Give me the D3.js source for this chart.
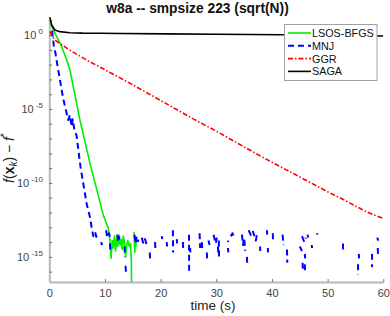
<!DOCTYPE html>
<html><head><meta charset="utf-8">
<script src="https://cdn.jsdelivr.net/npm/d3@7/dist/d3.min.js"></script>
<style>
html,body{margin:0;padding:0;background:#fff;}
svg{display:block;}
text{font-family:"Liberation Sans",Arial,sans-serif;}
</style></head>
<body>
<svg id="chart" width="390" height="316"></svg>
<script>
// ---- data (log10 of f(x_k)-f*, null = gap / non-positive value) ----
const title = "w8a -- smpsize 223 (sqrt(N))";
const seriesNames = ["LSOS-BFGS","MNJ","GGR","SAGA"];
const xTicks = [0,10,20,30,40,50,60];
const yLabelExps = [0,-5,-10,-15];
const yMinorExps = [1,0,-1,-2,-3,-4,-5,-6,-7,-8,-9,-10,-11,-12,-13,-14,-15,-16];

const sagaT = [0.03,0.13,0.43,1.0,1.9,3.7,6,9,13,21,30,42,50,60];
const sagaL = [1.22,1.13,0.68,0.34,0.23,0.16,0.13,0.12,0.10,0.08,0.05,0.02,-0.02,-0.06];

const ggrT = [0.05,0.5,1,2,4,7,10,14,18,22,26,30,34,38,42,46,50,53,57,60];
const ggrL = [0.25,-0.05,-0.33,-0.6,-1.1,-1.75,-2.35,-3.16,-4.0,-4.85,-5.7,-6.5,-7.35,-8.2,-9.0,-9.8,-10.6,-11.16,-11.96,-12.4];

const lsosT = [0.25,0.43,1.62,2.23,3.13,3.72,5.51,7.31,9.7,10.6,10.9,11.1,11.3,11.5,11.7,11.9,12.1,12.3,12.5,12.7,12.9,13.1,13.3,13.5,13.7,13.9,14.1,14.4,14.6,14.75,14.78,null,15.2,15.35,15.5,15.6];
const lsosL = [0.8,0.57,-0.33,-0.79,-1.69,-2.38,-5.76,-8.68,-12.18,-13.06,-13.87,-15.1,-13.9,-14.4,-13.6,-14.6,-13.7,-14.3,-13.5,-14.2,-13.8,-14.5,-13.6,-14.0,-15.0,-14.2,-13.9,-14.3,-14.1,-15.45,-17.5,null,-13.3,-14.7,-13.8,-14.3];

const mnjT = [0.5,0.8,1.1,1.3,1.9,2.5,3.4,3.7,4.0,4.2,4.5,4.9,5.6,6.7,7.3,7.6,7.9,8.2,8.5,null,
  9.3,9.5,null,10.2,10.4,10.7,11.0,null,10.9,10.95,null,12.2,12.4,12.6,null,13.5,13.6,null,13.7,13.78,null,
  15.3,15.5,15.7,16.0,null,16.6,16.9,17.2,17.5,null,18.05,18.1,null,19.0,19.05,null,20.2,20.3,null,21.1,21.15,null,
  22.2,22.25,null,22.9,22.95,null,24.0,24.05,null,25.1,25.12,null,25.3,25.35,null,27.0,27.1,null,27.4,27.5,null,
  28.3,28.35,null,28.6,28.8,null,29.5,29.9,30.1,null,30.3,30.35,null,30.45,30.5,null,32.1,32.15,null,32.1,32.15,null,
  32.6,32.9,33.2,null,34.6,34.8,35.0,35.2,null,35.5,35.55,null,35.8,36.3,36.6,37.1,37.3,null,37.85,37.9,null,
  39.1,39.15,null,39.25,39.3,null,40.15,40.2,null,41.9,42.1,null,42.7,42.75,null,45.0,45.4,null,45.5,45.55,null,
  45.4,45.8,46.1,null,45.9,45.95,null,45.9,45.95,null,46.4,46.5,null,47.15,47.2,null,48.1,48.15,null,
  52.75,52.8,null,55.6,55.65,null,55.45,55.5,null,57.95,58.0,null,57.95,58.0,null,58.9,59.1,null,59.0,59.05];
const mnjL = [0.3,-0.7,-1.2,-1.7,-3.0,-4.3,-5.75,-5.4,-6.2,-5.7,-6.4,-6.8,-8.9,-11.4,-12.3,-13.0,-13.6,-13.3,-13.7,null,
  -14.0,-14.2,null,-13.2,-13.7,-13.4,-13.8,null,-14.1,-14.5,null,-13.5,-14.0,-13.6,null,-14.3,-15.0,null,-15.6,-16.2,null,
  -13.5,-14.1,-13.6,-14.0,null,-13.7,-14.1,-13.8,-14.2,null,-14.7,-15.1,null,-14.0,-14.4,null,-13.6,-13.8,null,-14.0,-14.3,null,
  -13.2,-14.7,null,-13.8,-14.1,null,-14.0,-14.5,null,-13.5,-16.1,null,-14.4,-14.7,null,-13.4,-14.4,null,-14.0,-14.6,null,
  -14.7,-15.1,null,-13.9,-14.2,null,-13.5,-14.1,-13.7,null,-14.3,-14.7,null,-13.9,-15.1,null,-13.9,-14.0,null,-14.4,-14.7,null,
  -13.6,-13.4,-13.7,null,-13.5,-14.2,-13.7,-14.6,null,-15.0,-15.4,null,-13.2,-13.6,-13.3,-13.9,-13.5,null,-14.3,-14.6,null,
  -13.2,-13.5,null,-14.4,-14.7,null,-13.4,-14.0,null,-13.5,-14.2,null,-14.5,-15.4,null,-14.3,-14.6,null,-15.4,-15.8,null,
  -13.6,-14.0,-13.7,null,-14.8,-15.1,null,-15.5,-16.1,null,-13.5,-13.7,null,-14.2,-14.4,null,-13.4,-13.5,null,
  -14.1,-14.6,null,-14.8,-15.1,null,-15.5,-16.2,null,-14.8,-15.2,null,-15.5,-15.7,null,-13.7,-13.9,null,-14.4,-14.8];

const colors = ["#00ee00","#0000ff","#ff0000","#000000"];

// ---- build series ----
function mk(Tt,Lv){return Tt.map((t,i)=> (t===null||Lv[i]===null)?null:{t:t,v:Math.pow(10,Lv[i])});}
const series = [
  {name:seriesNames[0], pts:mk(lsosT,lsosL), color:colors[0], dash:null, w:1.6},
  {name:seriesNames[1], pts:mk(mnjT,mnjL), color:colors[1], dash:"6,4", w:2},
  {name:seriesNames[2], pts:mk(ggrT,ggrL), color:colors[2], dash:"5,2,1.5,2", w:1.6},
  {name:seriesNames[3], pts:mk(sagaT,sagaL), color:colors[3], dash:null, w:1.6}
];

const L=49.3, R=383.3, T=17, B=282;
const svg = d3.select("#chart");
const x = d3.scaleLinear().domain([0,60]).range([L,R]);
const y = d3.scaleLog().domain([Math.pow(10,-16.7), Math.pow(10,1.22)]).range([B,T]);

svg.append("defs").append("clipPath").attr("id","clip")
  .append("rect").attr("x",L).attr("y",T).attr("width",R-L).attr("height",B-T);

// axes
const axisCol="#b8b8b8", tickCol="#555", txtCol="#444";
const gx = svg.append("g").attr("transform",`translate(0,${B})`)
  .call(d3.axisBottom(x).tickValues(xTicks).tickSizeInner(-3).tickSizeOuter(0).tickPadding(7));
gx.select(".domain").attr("stroke",axisCol).attr("stroke-width",2);
gx.selectAll(".tick line").attr("stroke",tickCol).attr("stroke-width",0.8);
gx.selectAll(".tick text").attr("fill",txtCol).attr("font-size","11px").attr("font-family","Liberation Sans, Arial, sans-serif");

const gy = svg.append("g").attr("transform",`translate(${L},0)`)
  .call(d3.axisLeft(y).tickValues(yMinorExps.map(e=>Math.pow(10,e))).tickSizeInner(-3).tickSizeOuter(0).tickFormat(""));
gy.select(".domain").attr("stroke",axisCol).attr("stroke-width",2);
gy.selectAll(".tick line").attr("stroke",tickCol).attr("stroke-width",0.8);

// y tick labels 10^e
yLabelExps.forEach(e=>{
  const t = svg.append("text").attr("x",43).attr("y",y(Math.pow(10,e))+4)
    .attr("text-anchor","end").attr("fill",txtCol).attr("font-size","11px");
  t.append("tspan").text("10");
  t.append("tspan").attr("dy",-5).attr("font-size","8px").text(" "+String(e));
});

// lines
const line = d3.line().defined(d=>d!==null).x(d=>x(d.t)).y(d=>y(d.v));
const gl = svg.append("g").attr("clip-path","url(#clip)");
series.forEach(s=>{
  gl.append("path").datum(s.pts).attr("d",line).attr("fill","none")
    .attr("stroke",s.color).attr("stroke-width",s.w)
    .attr("stroke-dasharray",s.dash).attr("stroke-linejoin","round");
});

// title
svg.append("text").attr("x",197.5).attr("y",13).attr("text-anchor","middle")
  .attr("font-weight","bold").attr("font-size","13.8px").attr("fill","#111").text(title);
// x label
svg.append("text").attr("x",213).attr("y",310).attr("text-anchor","middle")
  .attr("font-size","13.5px").attr("fill","#222").text("time (s)");
// y label
const yl = svg.append("text").attr("transform","translate(14,158) rotate(-90)")
  .attr("text-anchor","middle").attr("fill","#222").attr("font-size","14px")
  .attr("font-family","Liberation Serif, Times New Roman, serif");
yl.append("tspan").attr("font-style","italic").text("f");
yl.append("tspan").text("(");
yl.append("tspan").attr("font-weight","bold").text("x");
yl.append("tspan").attr("font-style","italic").attr("font-size","10px").attr("dy",3).text("k");
yl.append("tspan").attr("dy",-3).text(") \u2212 ");
yl.append("tspan").attr("font-style","italic").text("f");
yl.append("tspan").attr("font-size","10px").attr("dy",-6).text("*");

// legend
const lg = svg.append("g");
lg.append("rect").attr("x",284.5).attr("y",24.5).attr("width",92.5).attr("height",56)
  .attr("fill","#fff").attr("stroke","#a0a0a0").attr("stroke-width",1);
series.forEach((s,i)=>{
  const yy = 33 + i*12.8;
  lg.append("line").attr("x1",288).attr("x2",311).attr("y1",yy).attr("y2",yy)
    .attr("stroke",s.color).attr("stroke-width",s.w).attr("stroke-dasharray",s.dash);
  lg.append("text").attr("x",312).attr("y",yy+4).attr("font-size","10.8px").attr("fill","#111").text(s.name);
});
</script>
</body></html>
